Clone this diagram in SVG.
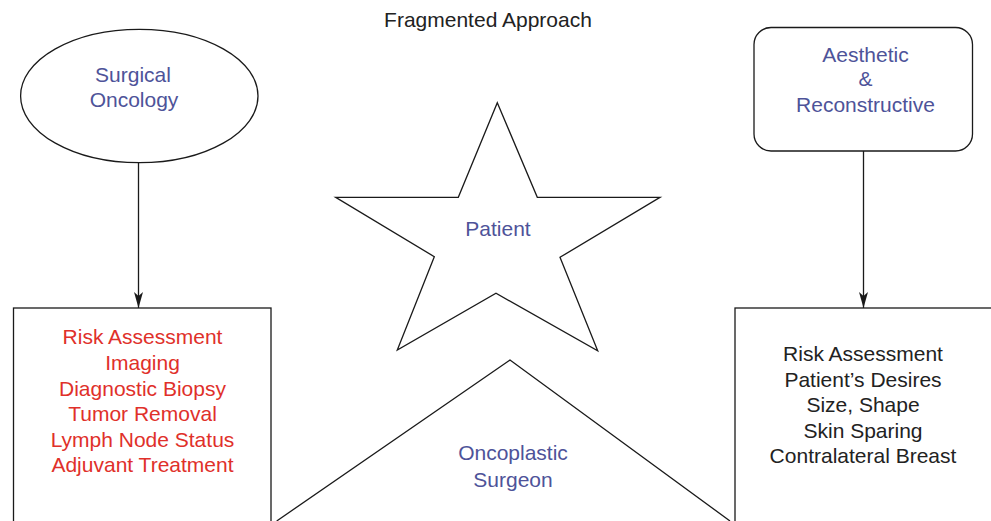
<svg xmlns="http://www.w3.org/2000/svg" width="991" height="521" viewBox="0 0 991 521">
<style>
.shape{fill:#fff;stroke:#1a1a1a;stroke-width:1.3}
.line{fill:none;stroke:#1a1a1a;stroke-width:1.3}
text{font-family:"Liberation Sans",Arial,sans-serif;font-size:21px;text-anchor:middle}
.blue{fill:#4e5399}
.red{fill:#e0302a}
.dark{fill:#222}
</style>
<defs>
<marker id="arr" markerUnits="userSpaceOnUse" markerWidth="16" markerHeight="10" viewBox="0 0 16 10" refX="16" refY="5" orient="auto">
<path d="M0,0.5 L16,5 L0,9.5 L4,5 z" fill="#1a1a1a"/>
</marker>
</defs>
<rect width="991" height="521" fill="#fff"/>
<text class="dark" x="488" y="26.5">Fragmented Approach</text>

<g id="oncoplastic-surgeon">
<polyline class="line" points="276.7,521 510,360 730,521"/>
<text class="blue" x="513" y="460">Oncoplastic</text>
<text class="blue" x="513" y="486.5">Surgeon</text>
</g>

<g id="surgical-oncology">
<ellipse class="shape" cx="139.3" cy="96" rx="118.7" ry="66.7"/>
<text class="blue" x="133" y="81.5">Surgical</text>
<text class="blue" x="134" y="106.5">Oncology</text>
</g>

<g id="aesthetic-reconstructive">
<rect class="shape" x="754" y="27.5" width="218.5" height="123.5" rx="17" ry="17"/>
<text class="blue" x="865.5" y="61.5">Aesthetic</text>
<text class="blue" x="865.5" y="86">&amp;</text>
<text class="blue" x="865.5" y="111.5">Reconstructive</text>
</g>

<g id="patient">
<polygon class="shape" points="497.3,102.7 537.3,197.3 660,197.3 560,257.3 597.7,350.7 496,293.3 397.3,350 434.3,256.7 335.7,197.3 458.3,197.3"/>
<text class="blue" x="498" y="236">Patient</text>
</g>

<g id="surgical-tasks">
<rect class="shape" x="13.5" y="308" width="257.5" height="260"/>
<text class="red" x="142.5" y="344.3">Risk Assessment</text>
<text class="red" x="142.5" y="370">Imaging</text>
<text class="red" x="142.5" y="395.6">Diagnostic Biopsy</text>
<text class="red" x="142.5" y="421.2">Tumor Removal</text>
<text class="red" x="142.5" y="446.8">Lymph Node Status</text>
<text class="red" x="142.5" y="472.4">Adjuvant Treatment</text>
</g>

<g id="reconstructive-tasks">
<rect class="shape" x="735" y="308" width="300" height="260"/>
<text class="dark" x="863" y="361">Risk Assessment</text>
<text class="dark" x="863" y="386.5">Patient’s Desires</text>
<text class="dark" x="863" y="412">Size, Shape</text>
<text class="dark" x="863" y="437.5">Skin Sparing</text>
<text class="dark" x="863" y="463">Contralateral Breast</text>
</g>

<g id="connectors">
<line class="line" x1="138.5" y1="162.7" x2="138.5" y2="308" marker-end="url(#arr)"/>
<line class="line" x1="863.5" y1="151" x2="863.5" y2="308" marker-end="url(#arr)"/>
</g>
</svg>
